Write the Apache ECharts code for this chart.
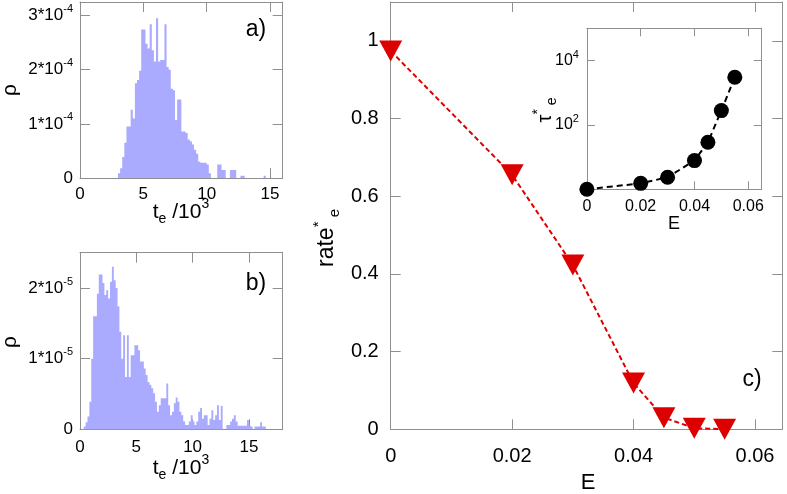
<!DOCTYPE html>
<html><head><meta charset="utf-8">
<script src="https://cdn.jsdelivr.net/npm/echarts@6/dist/echarts.min.js"></script>
<style>html,body{margin:0;padding:0;background:#fff}#c{width:787px;height:494px}</style>
</head><body><div id="c"></div>
<script>
// ---------------- DATA ----------------
// panel a) histogram of t_e (x in units of 10^3, y in units of 1e-4)
const histA_start = 3.0;
const histA_width = 1 / 6;
const histA_values = [
  0.09,0.18,0.39,0.65,0.95,0.95,1.26,1.10,1.75,1.81,1.98,
  2.74,2.74,2.48,2.39,2.84,2.36,2.15,2.95,2.15,2.18,
  2.18,2.84,2.05,2.00,1.65,1.62,1.07,1.45,1.45,0.86,
  0.86,0.83,0.71,0.68,0.62,0.52,0.45,0.30,0.28,0.28,
  0.28,0.25,0.09,0,0,0,0.25,0.25,0.15,0.15,
  0,0,0.15,0.15,0.15,0,0,0.04,0.04,0,
  0,0,0,0,0,0,0,0,0.04
];
// panel b) histogram of t_e (x in units of 10^3, y in units of 1e-5)
const histB_start = 0.333;
const histB_width = 1 / 6;
const histB_values = [
  0.04,0.10,0.18,0.39,1.00,1.60,1.60,1.92,2.19,2.19,
  2.07,1.90,1.97,1.85,2.09,2.30,2.11,2.00,1.74,1.38,
  1.00,1.33,0.74,1.33,0.74,1.05,1.05,1.19,1.19,1.12,
  0.96,0.96,0.86,0.77,0.67,0.63,0.58,0.51,0.39,0.25,
  0.34,0.44,0.44,0.44,0.65,0.34,0.20,0.25,0.37,0.45,
  0.39,0.25,0.20,0.11,0.06,0.06,0.11,0.20,0.11,0.06,
  0.11,0.25,0.30,0.15,0.20,0.20,0.06,0.15,0.27,0.13,
  0.20,0.34,0.13,0.33,0,0,0.06,0.06,0.11,0.15,
  0.20,0.11,0.05,0.05,0.05,0.05,0.05,0.13,0.05,0.04,
  0,0.04,0.04,0.04,0.10,0.04,0.04
];
// panel c)
const E_values    = [0, 0.02, 0.03, 0.04, 0.045, 0.05, 0.055];
const rate_values = [0.974, 0.655, 0.423, 0.119, 0.030, 0.003, 0.000];
const tau_values  = [1.0, 1.53, 2.36, 7.8, 28.9, 278, 3020];

// tick values
const histA_xTicks = [0, 5, 10, 15];
const histA_yTicks = [0, 1, 2, 3];
const histB_xTicks = [0, 5, 10, 15];
const histB_yTicks = [0, 1, 2];
const main_xTicks = [0, 0.02, 0.04, 0.06];
const main_yTicks = [0, 0.2, 0.4, 0.6, 0.8, 1];
const inset_xTicks = [0, 0.02, 0.04, 0.06];
const inset_yTicks = [100, 10000];

// ---------------- STYLE ----------------
const FF = 'Liberation Sans, Arial, Helvetica, sans-serif';
const FR = '#8f8f8f';
const HIST = '#aaaaff';
const RED = '#dd0000';

function axPair(dir, g, type, min, max, ticks, tl, lab) {
  const posA = dir === 'x' ? 'bottom' : 'left';
  const posB = dir === 'x' ? 'top' : 'right';
  const base = {
    gridIndex: g, type: type, min: min, max: max,
    axisLine: { show: true, onZero: false, lineStyle: { color: FR, width: 1 } },
    axisTick: { show: true, inside: true, length: tl, customValues: ticks, lineStyle: { color: FR, width: 1 } },
    splitLine: { show: false }, minorTick: { show: false }
  };
  if (type === 'log') base.logBase = 10;
  const a = Object.assign({}, base, {
    position: posA,
    axisLabel: Object.assign({ show: true, customValues: ticks, color: '#000', fontFamily: FF }, lab)
  });
  const b = Object.assign({}, base, { position: posB, axisLabel: { show: false } });
  return [a, b];
}

const supRich = (fs, sfs) => ({
  b: { fontSize: fs, fontFamily: FF, color: '#000', lineHeight: fs + 7, verticalAlign: 'middle' },
  s: { fontSize: sfs, fontFamily: FF, color: '#000', lineHeight: sfs + 1, verticalAlign: 'top' }
});

const xAxes = [].concat(
  axPair('x', 0, 'value', 0, 16, histA_xTicks, 10, { fontSize: 17, margin: 8 }),
  axPair('x', 1, 'value', 0, 18, histB_xTicks, 10, { fontSize: 17, margin: 10 }),
  axPair('x', 2, 'value', 0, 0.0645, main_xTicks, 10, { fontSize: 20, margin: 17,
    formatter: v => v === 0 ? '0' : v.toFixed(2) }),
  axPair('x', 3, 'value', 0, 0.065, inset_xTicks, 8, { fontSize: 16, margin: 9,
    formatter: v => v === 0 ? '0' : v.toFixed(2) })
);
const yAxes = [].concat(
  axPair('y', 0, 'value', 0, 3.25, histA_yTicks, 10, { margin: 7,
    formatter: v => v === 0 ? '{b|0}' : '{b|' + v + '*10}{s|-4}', rich: supRich(17, 11) }),
  axPair('y', 1, 'value', 0, 2.5, histB_yTicks, 10, { margin: 7,
    formatter: v => v === 0 ? '{b|0}' : '{b|' + v + '*10}{s|-5}', rich: supRich(17, 11) }),
  axPair('y', 2, 'value', 0, 1.1, main_yTicks, 10, { fontSize: 20, margin: 12,
    formatter: v => String(v) }),
  axPair('y', 3, 'log', 1, 100000, inset_yTicks, 8, { margin: 8,
    formatter: v => '{b|10}{s|' + Math.round(Math.log10(v)) + '}', rich: supRich(16, 11) })
);

// histogram: one filled stepped polygon, every corner mapped through the axes
function histSeries(idx, start, width, values) {
  return {
    type: 'custom', xAxisIndex: idx, yAxisIndex: idx, silent: true, z: 1,
    data: [[start, 0]],
    renderItem: function (params, api) {
      const pts = [api.coord([start, 0])];
      values.forEach((v, i) => {
        pts.push(api.coord([start + i * width, v]));
        pts.push(api.coord([start + (i + 1) * width, v]));
      });
      pts.push(api.coord([start + values.length * width, 0]));
      return { type: 'polygon', shape: { points: pts }, style: { fill: HIST } };
    }
  };
}

const titleRich = (fs, sfs, fill) => ({
  n: { fontSize: fs, fontFamily: FF, fill: fill, lineHeight: fs + 8, verticalAlign: 'middle' },
  sub: { fontSize: sfs, fontFamily: FF, fill: fill, lineHeight: sfs, verticalAlign: 'bottom' },
  sup: { fontSize: sfs, fontFamily: FF, fill: fill, lineHeight: sfs, verticalAlign: 'top' }
});

function txt(x, y, text, fs, rot) {
  return { type: 'text', x: x, y: y, rotation: rot || 0, z: 10,
    style: { text: text, fontSize: fs, fontFamily: FF, fill: '#000', align: 'center', verticalAlign: 'middle' } };
}
function rtxt(x, y, text, fs, sfs, rot) {
  return { type: 'text', x: x, y: y, rotation: rot || 0, z: 10,
    style: { text: text, align: 'center', verticalAlign: 'middle', rich: titleRich(fs, sfs, '#000') } };
}

const option = {
  animation: false,
  backgroundColor: '#fff',
  grid: [
    { left: 80, top: 2, width: 202.7, height: 176 },
    { left: 80, top: 252.7, width: 202.7, height: 176.6 },
    { left: 390.7, top: 2, width: 391.6, height: 427.3 },
    { left: 586.9, top: 28.3, width: 174.8, height: 161 }
  ],
  xAxis: xAxes,
  yAxis: yAxes,
  series: [
    histSeries(0, histA_start, histA_width, histA_values),
    histSeries(2, histB_start, histB_width, histB_values),
    {
      type: 'line', xAxisIndex: 4, yAxisIndex: 4, z: 3,
      data: E_values.map((e, i) => [e, rate_values[i]]),
      symbol: 'triangle', symbolRotate: 180, symbolSize: [23, 21],
      itemStyle: { color: RED },
      lineStyle: { color: RED, width: 2, type: [5, 3] }
    },
    {
      type: 'line', xAxisIndex: 6, yAxisIndex: 6, z: 3,
      data: E_values.map((e, i) => [e, tau_values[i]]),
      symbol: 'circle', symbolSize: 15,
      itemStyle: { color: '#000' },
      lineStyle: { color: '#000', width: 2, type: [6, 4] }
    }
  ],
  graphic: [
    txt(10, 90, 'ρ', 21, Math.PI / 2),
    txt(10, 342, 'ρ', 21, Math.PI / 2),
    rtxt(181, 212, '{n|t}{sub|e}{n| /10}{sup|3}', 21, 14),
    rtxt(181, 468, '{n|t}{sub|e}{n| /10}{sup|3}', 21, 14),
    txt(256, 30, 'a)', 23),
    txt(256, 284, 'b)', 23),
    txt(752, 380, 'c)', 23),
    txt(588, 483, 'E', 22),
    txt(674, 224, 'E', 18),
    rtxt(327, 238, '{n|rate}{sup|*}{sub| e}', 23, 15, Math.PI / 2),
    rtxt(545, 110, '{n|τ}{sup|*}{sub| e}', 20, 14, Math.PI / 2)
  ]
};

const chart = echarts.init(document.getElementById('c'), null, { renderer: 'canvas' });
chart.setOption(option);
</script>
</body></html>
